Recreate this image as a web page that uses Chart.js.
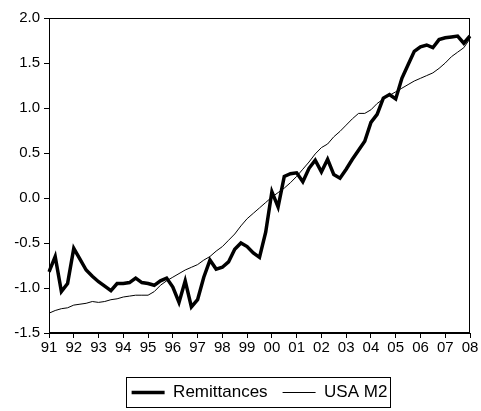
<!DOCTYPE html>
<html>
<head>
<meta charset="utf-8">
<script src="https://cdn.jsdelivr.net/npm/chart.js@4/dist/chart.umd.min.js"></script>
<style>
html,body{margin:0;padding:0;background:#fff;}
#wrap{width:481px;height:411px;}
</style>
</head>
<body>
<div id="wrap"><canvas id="c" width="481" height="411"></canvas></div>
<script>
// Year tick labels (each year has 4 quarterly observations; last obs is 2008Q1)
const yearLabels = ['91','92','93','94','95','96','97','98','99','00','01','02','03','04','05','06','07','08'];
const categories = [];
yearLabels.forEach((y, k) => {
  const quarters = (k === yearLabels.length - 1) ? 1 : 4;
  for (let q = 1; q <= quarters; q++) categories.push(y + 'Q' + q);
});

const remittances = [
  -0.82,-0.65,-1.04,-0.95,-0.56,-0.68,-0.80,-0.87,-0.93,-0.98,
  -1.03,-0.95,-0.95,-0.94,-0.89,-0.94,-0.95,-0.97,-0.92,-0.89,
  -0.99,-1.16,-0.92,-1.21,-1.13,-0.88,-0.69,-0.79,-0.77,-0.71,
  -0.57,-0.50,-0.54,-0.61,-0.66,-0.38, 0.07,-0.10, 0.24, 0.27,
   0.28, 0.18, 0.33, 0.42, 0.29, 0.43, 0.26, 0.22, 0.32, 0.43,
   0.53, 0.63, 0.84, 0.93, 1.11, 1.15, 1.10, 1.33, 1.48, 1.63,
   1.68, 1.70, 1.67, 1.76, 1.78, 1.79, 1.80, 1.72, 1.80
];
const usaM2 = [
  -1.28,-1.25,-1.23,-1.22,-1.19,-1.18,-1.17,-1.15,-1.16,-1.15,
  -1.13,-1.12,-1.10,-1.09,-1.08,-1.08,-1.08,-1.04,-0.97,-0.92,
  -0.88,-0.84,-0.80,-0.77,-0.74,-0.69,-0.65,-0.59,-0.54,-0.47,
  -0.40,-0.31,-0.23,-0.17,-0.11,-0.05, 0.01, 0.06, 0.11, 0.17,
   0.24, 0.32, 0.40, 0.49, 0.56, 0.60, 0.68, 0.74, 0.81, 0.88,
   0.94, 0.94, 0.98, 1.05, 1.10, 1.14, 1.18, 1.22, 1.26, 1.30,
   1.33, 1.36, 1.39, 1.44, 1.50, 1.57, 1.62, 1.67, 1.77
];
const seriesNames = ['Remittances', 'USA M2'];
const yMin = -1.5, yMax = 2.0, yStep = 0.5;

const FONT = 'Liberation Sans, Arial, Helvetica, sans-serif';

const framePlugin = {
  id: 'frame',
  afterDraw(chart) {
    const ctx = chart.ctx, a = chart.chartArea;
    ctx.save();
    ctx.strokeStyle = '#000';
    ctx.lineWidth = 1;
    const l = Math.round(a.left) + 0.5, t = Math.round(a.top) + 0.5;
    const r = Math.round(a.right) - 0.5, b = Math.round(a.bottom) - 0.5;
    ctx.strokeRect(l, t, r - l, b - t);
    // legend box
    const hb = chart.legend && chart.legend.legendHitBoxes;
    if (hb && hb.length) {
      let minX = Infinity, maxX = -Infinity, minY = Infinity, maxY = -Infinity;
      hb.forEach(h => {
        minX = Math.min(minX, h.left); maxX = Math.max(maxX, h.left + h.width);
        minY = Math.min(minY, h.top); maxY = Math.max(maxY, h.top + h.height);
      });
      const x0 = Math.round(minX - 6), x1 = Math.round(maxX + 3);
      const y0 = Math.round(minY - 7), y1 = Math.round(maxY + 5.5);
      ctx.strokeRect(x0 + 0.5, y0 + 0.5, x1 - x0, y1 - y0);
    }
    ctx.restore();
  }
};

new Chart(document.getElementById('c'), {
  type: 'line',
  data: {
    labels: categories,
    datasets: [
      { label: seriesNames[0], data: remittances, borderColor: '#000', backgroundColor: '#000',
        borderWidth: 3.5, pointRadius: 0, tension: 0, fill: false },
      { label: seriesNames[1], data: usaM2, borderColor: '#000', backgroundColor: '#000',
        borderWidth: 1, pointRadius: 0, tension: 0, fill: false }
    ]
  },
  options: {
    responsive: false,
    animation: false,
    layout: { padding: { top: 18, right: 11, left: 0, bottom: 0 } },
    plugins: {
      tooltip: { enabled: false },
      legend: {
        position: 'bottom',
        fullSize: false,
        labels: {
          usePointStyle: true,
          pointStyle: 'line',
          pointStyleWidth: 33,
          padding: 15,
          color: '#000',
          font: { family: FONT, size: 17 }
        }
      }
    },
    scales: {
      x: {
        type: 'category',
        offset: false,
        afterFit: s => { s.height = 36; },
        grid: {
          drawOnChartArea: false,
          drawTicks: true,
          tickLength: 5,
          color: c => (c.index % 4 === 0 ? '#000' : 'rgba(0,0,0,0)')
        },
        border: { display: true, color: '#000', width: 1 },
        ticks: {
          autoSkip: false,
          maxRotation: 0,
          minRotation: 0,
          padding: 1,
          color: '#000',
          font: { family: FONT, size: 15 },
          callback: (v, i) => (i % 4 === 0 ? yearLabels[i / 4] : '')
        }
      },
      y: {
        min: yMin,
        max: yMax,
        afterFit: s => { s.width = 49; },
        grid: { drawOnChartArea: false, drawTicks: true, tickLength: 5, color: '#000' },
        border: { display: true, color: '#000', width: 1 },
        ticks: {
          stepSize: yStep,
          padding: 4,
          color: '#000',
          font: { family: FONT, size: 15 },
          callback: v => Number(v).toFixed(1)
        }
      }
    }
  },
  plugins: [framePlugin]
});
</script>
</body>
</html>
